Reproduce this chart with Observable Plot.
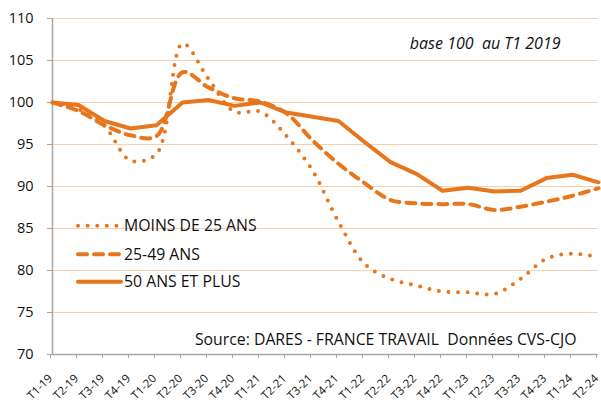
<!DOCTYPE html>
<html><head><meta charset="utf-8">
<script src="https://cdn.jsdelivr.net/npm/d3@7"></script>
<script src="https://cdn.jsdelivr.net/npm/@observablehq/plot@0.6"></script>
<style>body{margin:0;background:#fff}</style>
</head><body><div id="chart"></div>
<script>
const quarters = ["T1-19","T2-19","T3-19","T4-19","T1-20","T2-20","T3-20","T4-20","T1-21","T2-21","T3-21","T4-21","T1-22","T2-22","T3-22","T4-22","T1-23","T2-23","T3-23","T4-23","T1-24","T2-24"];
const moins25 = [100, 99.2, 97.2, 93.1, 93.9, 107.0, 102.8, 98.9, 98.9, 96.0, 91.9, 85.8, 80.8, 79.0, 78.2, 77.5, 77.4, 77.2, 79.0, 81.4, 82.0, 81.6];
const age2549 = [100, 99.0, 97.3, 96.1, 96.0, 103.6, 101.8, 100.5, 100.1, 98.7, 95.5, 92.7, 90.4, 88.4, 88.0, 87.9, 87.9, 87.2, 87.6, 88.2, 88.9, 89.8];
const plus50 = [100, 99.7, 97.8, 96.9, 97.3, 100.0, 100.3, 99.6, 100.0, 98.8, 98.3, 97.8, 95.3, 92.9, 91.5, 89.5, 89.85, 89.4, 89.5, 91.0, 91.4, 90.5];
const seriesNames = ["MOINS DE 25 ANS", "25-49 ANS", "50 ANS ET PLUS"];
const yTicks = [70, 75, 80, 85, 90, 95, 100, 105, 110];
const noteText = "base 100  au T1 2019";
const sourceText = "Source: DARES - FRANCE TRAVAIL  Données CVS-CJO";

const seriesValues = [moins25, age2549, plus50];
const rows = seriesNames.flatMap((s, k) => quarters.map((q, i) => ({s, q, v: seriesValues[k][i]})));

const orange = "#E8761C";
const grid = "#F9D0AE";
const axisGray = "#A6A6A6";
const font = "'Open Sans', Lato, sans-serif";
const styles = {
  "MOINS DE 25 ANS": {dash: "0 9.6", curve: "catmull-rom"},
  "25-49 ANS": {dash: "9 7", curve: "catmull-rom"},
  "50 ANS ET PLUS": {dash: null, curve: "linear"}
};

const lineMarks = seriesNames.map(s => Plot.line(rows.filter(d => d.s === s), {
  x: "q", y: "v", curve: styles[s].curve, stroke: orange, strokeWidth: 4,
  strokeDasharray: styles[s].dash, strokeLinecap: "round", strokeLinejoin: "round"
}));

const plot = Plot.plot({
  width: 601, height: 403,
  marginLeft: 52, marginRight: 3, marginTop: 18, marginBottom: 49,
  style: {fontFamily: font, fontSize: "14px", color: "#000", background: "#fff"},
  x: {type: "point", domain: quarters, padding: 0},
  y: {domain: [70, 110]},
  marks: [
    Plot.ruleY(yTicks.filter(d => d > 70), {stroke: grid, strokeWidth: 1}),
    Plot.axisY({ticks: yTicks, tickSize: 5, tickPadding: 14, stroke: axisGray, fill: "#111", label: null, fontSize: 14.5}),
    Plot.axisX({tickSize: 4, tickRotate: -45, tickPadding: 18, dx: -2, stroke: axisGray, fill: "#111", label: null, fontSize: 11.5}),
    Plot.ruleY([70], {stroke: axisGray, strokeWidth: 1.5}),
    Plot.ruleX([quarters[0]], {stroke: axisGray, strokeWidth: 1.5}),
    ...lineMarks,
    Plot.text([noteText], {frameAnchor: "top-right", textAnchor: "end", lineAnchor: "bottom", dx: -38, dy: 30, fontSize: 16, fontStyle: "italic", fill: "#111"}),
    Plot.text([sourceText], {frameAnchor: "bottom-right", textAnchor: "end", lineAnchor: "bottom", dx: -22, dy: -10, fontSize: 15.8, fill: "#111"})
  ]
});

// legend inside the plot area
const svg = d3.select(plot);
const legendY = [225.7, 254.3, 281.7];
seriesNames.forEach((s, k) => {
  const g = svg.append("g");
  const ln = g.append("line").attr("x1", 78).attr("x2", 121).attr("y1", legendY[k]).attr("y2", legendY[k])
    .attr("stroke", orange).attr("stroke-width", 4).attr("stroke-linecap", "round");
  if (styles[s].dash) ln.attr("stroke-dasharray", styles[s].dash);
  g.append("text").attr("x", 124).attr("y", legendY[k]).attr("dy", "0.36em")
    .attr("text-anchor", "start")
    .attr("font-family", font).attr("font-size", 15.8).attr("fill", "#111").text(s);
});

document.getElementById("chart").appendChild(plot);
</script>
</body></html>
